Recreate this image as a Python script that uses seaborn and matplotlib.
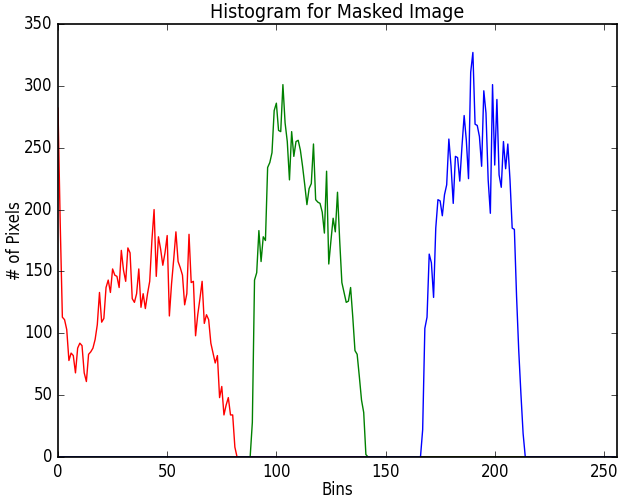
# ==============================
# IMPORTS
# ==============================

import numpy as np
import pandas as pd
import matplotlib
matplotlib.use('Agg')
import matplotlib.pyplot as plt
import seaborn as sns


# ==============================
# 1. DATA
# ==============================

n_bins = 256

# red channel, bins 0..82
red_start = 0
red_vals = [282, 190, 113, 111, 103, 78, 84, 82, 68, 88,
            92, 90, 68, 61, 83, 85, 88, 95, 107, 133,
            109, 112, 137, 143, 133, 152, 147, 146, 137, 167,
            151, 142, 169, 165, 128, 125, 132, 152, 121, 132,
            120, 132, 142, 175, 200, 146, 178, 168, 155, 165,
            179, 114, 140, 160, 182, 158, 153, 147, 123, 132,
            180, 141, 142, 98, 115, 128, 142, 108, 115, 111,
            92, 84, 76, 82, 48, 57, 34, 42, 48, 34,
            34, 8, 0]

# green channel, bins 88..142
green_start = 88
green_vals = [0, 28, 143, 149, 183, 158, 178, 175, 234, 238,
              246, 280, 286, 264, 263, 301, 270, 255, 224, 263,
              243, 255, 256, 248, 235, 220, 204, 217, 221, 253,
              208, 206, 205, 198, 181, 231, 156, 175, 193, 182,
              214, 175, 141, 133, 125, 126, 137, 113, 86, 83,
              65, 46, 36, 2, 0]

# blue channel, bins 166..214
blue_start = 166
blue_vals = [0, 22, 104, 113, 164, 157, 129, 185, 208, 207,
             195, 212, 220, 257, 235, 205, 243, 242, 223, 251,
             276, 256, 225, 311, 327, 269, 268, 259, 235, 296,
             278, 224, 197, 301, 236, 289, 228, 218, 255, 233,
             253, 224, 185, 184, 130, 86, 51, 19, 0]


def full_hist(start, vals):
    h = np.zeros(n_bins)
    h[start:start + len(vals)] = vals
    return h


bins = np.arange(n_bins)
df = pd.DataFrame({
    'bin': bins,
    'r': full_hist(red_start, red_vals),
    'g': full_hist(green_start, green_vals),
    'b': full_hist(blue_start, blue_vals),
})


# ==============================
# 2. STYLE
# ==============================

plt.style.use('classic')
plt.rcParams['font.family'] = ['DejaVu Sans']
plt.rcParams['font.stretch'] = 'condensed'
plt.rcParams['font.size'] = 12


# ==============================
# 3. PLOT
# ==============================

fig = plt.figure(figsize=(6.21, 4.98), dpi=100, facecolor='white')
ax = fig.add_axes([58 / 621, 41 / 498, 559 / 621, 433 / 498])

for col in ['r', 'g', 'b']:
    sns.lineplot(data=df, x='bin', y=col, color=col, linewidth=1.0,
                 ax=ax, legend=False, zorder=1)

# spines above the zero parts of the lines
for sp in ax.spines.values():
    sp.set_zorder(5)
    sp.set_linewidth(1.2)

ax.set_xlim([0, 256])
ax.set_ylim([0, 350])
ax.set_title('Histogram for Masked Image', fontsize=14, pad=4)
ax.set_xlabel('Bins', fontsize=12, labelpad=0)
ax.set_ylabel('# of Pixels', fontsize=12, labelpad=0)
ax.tick_params(labelsize=12)

fig.savefig('out.png', dpi=100, facecolor='white')
